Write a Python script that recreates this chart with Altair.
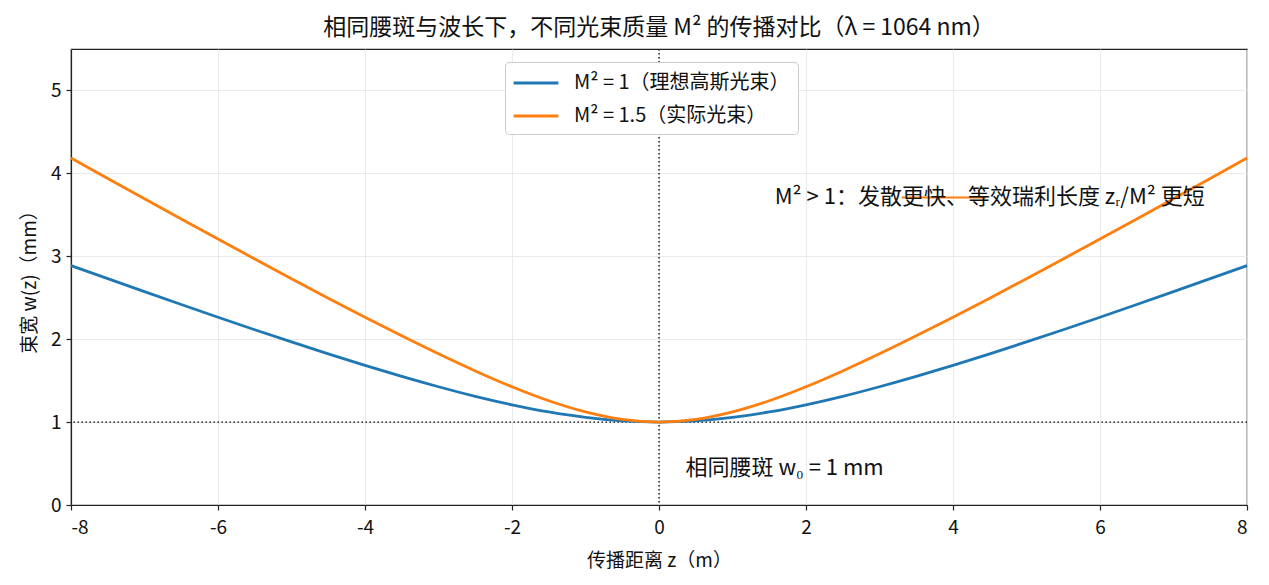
import altair as alt
import pandas as pd

z_vals = [-8, -7.5, -7, -6.5, -6, -5.5, -5, -4.5, -4, -3.5, -3, -2.5, -2, -1.5, -1, -0.5, 0,
          0.5, 1, 1.5, 2, 2.5, 3, 3.5, 4, 4.5, 5, 5.5, 6, 6.5, 7, 7.5, 8]
w_m1 = [2.888, 2.730, 2.573, 2.418, 2.265, 2.114, 1.967, 1.823, 1.684, 1.551, 1.426, 1.310, 1.208,
        1.122, 1.056, 1.014, 1.000,
        1.014, 1.056, 1.122, 1.208, 1.310, 1.426, 1.551, 1.684, 1.823, 1.967, 2.114, 2.265, 2.418,
        2.573, 2.730, 2.888]
w_m15 = [4.186, 3.939, 3.694, 3.450, 3.208, 2.968, 2.730, 2.495, 2.265, 2.040, 1.823, 1.617, 1.426,
         1.257, 1.122, 1.032, 1.000,
         1.032, 1.122, 1.257, 1.426, 1.617, 1.823, 2.040, 2.265, 2.495, 2.730, 2.968, 3.208, 3.450,
         3.694, 3.939, 4.186]
series_names = ["M² = 1（理想高斯光束）", "M² = 1.5（实际光束）"]
series_colors = ["#1f77b4", "#ff7f0e"]
x_ticks = [-8, -6, -4, -2, 0, 2, 4, 6, 8]
y_ticks = [0, 1, 2, 3, 4, 5]

rows = []
for z, a, b in zip(z_vals, w_m1, w_m15):
    rows.append({"z": z, "w": a, "s": series_names[0]})
    rows.append({"z": z, "w": b, "s": series_names[1]})
df = pd.DataFrame(rows)

FONT = "Noto Sans CJK SC"
xs = alt.Scale(domain=[-8, 8], nice=False, zero=False)
ys = alt.Scale(domain=[0, 5.5], nice=False, zero=False)

lines = alt.Chart(df).mark_line(strokeWidth=2.8, interpolate="monotone").encode(
    x=alt.X("z:Q", scale=xs, axis=alt.Axis(values=x_ticks, title="传播距离 z（m）",
                                           labelExpr="datum.value + ''")),
    y=alt.Y("w:Q", scale=ys, axis=alt.Axis(values=y_ticks, title="束宽 w(z)（mm）",
                                           labelExpr="datum.value + ''")),
    color=alt.Color("s:N", scale=alt.Scale(domain=series_names, range=series_colors),
                    sort=series_names,
                    legend=alt.Legend(title=None, orient="none", legendX=434, legendY=13,
                                      symbolType="M-2,0L2,0", symbolStrokeWidth=2.8, symbolSize=500,
                                      symbolOffset=10,
                                      labelFontSize=20, labelFont=FONT, labelColor="#111",
                                      rowPadding=10, labelLimit=500,
                                      padding=8, strokeColor="#cccccc", fillColor="white",
                                      cornerRadius=4, labelOffset=25)),
)

vline = alt.Chart(pd.DataFrame({"z": [0]})).mark_rule(
    color="black", strokeWidth=1.3, strokeDash=[1.5, 2.5]).encode(x=alt.X("z:Q", scale=xs))
hline = alt.Chart(pd.DataFrame({"w": [1]})).mark_rule(
    color="black", strokeWidth=1.3, strokeDash=[1.5, 2.5]).encode(y=alt.Y("w:Q", scale=ys))

seg = alt.Chart(pd.DataFrame({"z": [3.3], "z2": [4.45], "w": [3.71]})).mark_rule(
    color="#ff7f0e", strokeWidth=2).encode(
    x=alt.X("z:Q", scale=xs), x2="z2:Q", y=alt.Y("w:Q", scale=ys))

ann1 = alt.Chart(pd.DataFrame({"z": [4.5], "w": [3.71], "t": ["M² > 1：发散更快、等效瑞利长度 zᵣ/M² 更短"]})).mark_text(
    fontSize=22, font=FONT, align="center", baseline="middle", color="#111").encode(
    x=alt.X("z:Q", scale=xs), y=alt.Y("w:Q", scale=ys), text="t:N")
ann2 = alt.Chart(pd.DataFrame({"z": [0.36], "w": [0.45], "t": ["相同腰斑 w₀ = 1 mm"]})).mark_text(
    fontSize=22, font=FONT, align="left", baseline="middle", color="#111").encode(
    x=alt.X("z:Q", scale=xs), y=alt.Y("w:Q", scale=ys), text="t:N")

chart = alt.layer(vline, hline, lines, seg, ann1, ann2).properties(
    width=1176, height=456,
    title=alt.TitleParams("相同腰斑与波长下，不同光束质量 M² 的传播对比（λ = 1064 nm）",
                          fontSize=23, font=FONT, fontWeight="normal", offset=8, anchor="middle",
                          color="#111"),
    autosize=alt.AutoSizeParams(type="none"),
    padding={"left": 63, "top": 41, "right": 5, "bottom": 76},
).configure_view(stroke="#222222", strokeWidth=1.2).configure_axis(
    labelFont=FONT, titleFont=FONT, labelFontSize=19, titleFontSize=19, titleFontWeight="normal",
    labelColor="#111", titleColor="#111",
    domainColor="#222", domainWidth=1.2, tickColor="#222", tickSize=5, tickWidth=1.2,
    gridColor="#e8e8e8", gridWidth=0.9,
).configure_axisX(labelPadding=8, titlePadding=14).configure_axisY(labelPadding=5, titlePadding=11)

chart.save("out.html", embed_options={"renderer": "svg", "actions": False})
